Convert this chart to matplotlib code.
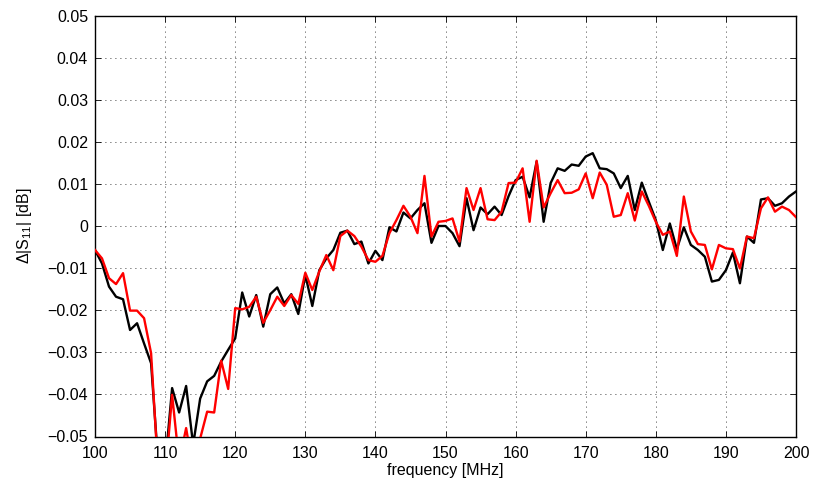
import numpy as np
import matplotlib
matplotlib.use("Agg")
import matplotlib.pyplot as plt

plt.rcParams['font.family'] = ['Liberation Sans', 'DejaVu Sans']
plt.rcParams['mathtext.fontset'] = 'custom'
plt.rcParams['mathtext.rm'] = 'Liberation Sans'
plt.rcParams['mathtext.it'] = 'Liberation Sans'
plt.rcParams['mathtext.default'] = 'regular'

freq = np.arange(100, 201, 1)

black = [
    -0.0057, -0.0089, -0.0144, -0.0168, -0.0174, -0.0247, -0.0231, -0.0279, -0.0326, -0.056,
    -0.057, -0.0385, -0.0443, -0.0380, -0.052, -0.0410, -0.0369, -0.0356, -0.0322, -0.0294,
    -0.0267, -0.0158, -0.0215, -0.0164, -0.0239, -0.0162, -0.0146, -0.0184, -0.0162, -0.0209,
    -0.0116, -0.0190, -0.0105, -0.0077, -0.0057, -0.0016, -0.0011, -0.0043, -0.0037, -0.0089,
    -0.0059, -0.0081, -0.0003, -0.0013, 0.0032, 0.0018, 0.0038, 0.0054, -0.0040, 0.0000,
    0.0000, -0.0017, -0.0048, 0.0066, -0.0010, 0.0044, 0.0028, 0.0046, 0.0026, 0.0071,
    0.0109, 0.0117, 0.0068, 0.0153, 0.0010, 0.0102, 0.0137, 0.0131, 0.0146, 0.0143,
    0.0165, 0.0173, 0.0137, 0.0135, 0.0125, 0.0090, 0.0119, 0.0038, 0.0103, 0.0058,
    0.0014, -0.0057, 0.0006, -0.0055, -0.0003, -0.0045, -0.0057, -0.0073, -0.0132, -0.0128,
    -0.0105, -0.0063, -0.0136, -0.0025, -0.0040, 0.0063, 0.0066, 0.0048, 0.0054, 0.0070,
    0.0082,
]

red = [
    -0.0057, -0.0077, -0.0124, -0.0138, -0.0112, -0.0201, -0.0201, -0.0219, -0.0302, -0.058,
    -0.060, -0.0401, -0.056, -0.0480, -0.058, -0.0505, -0.0441, -0.0443, -0.0320, -0.0387,
    -0.0195, -0.0198, -0.0192, -0.0168, -0.0230, -0.0200, -0.0168, -0.0190, -0.0164, -0.0185,
    -0.0111, -0.0152, -0.0108, -0.0069, -0.0105, -0.0024, -0.0011, -0.0024, -0.0049, -0.0081,
    -0.0085, -0.0071, -0.0017, 0.0014, 0.0048, 0.0022, -0.0017, 0.0119, -0.0025, 0.0010,
    0.0012, 0.0018, -0.0037, 0.0090, 0.0038, 0.0090, 0.0016, 0.0014, 0.0034, 0.0102,
    0.0103, 0.0137, 0.0010, 0.0155, 0.0044, 0.0078, 0.0109, 0.0078, 0.0079, 0.0087,
    0.0125, 0.0066, 0.0127, 0.0098, 0.0022, 0.0026, 0.0078, 0.0013, 0.0082, 0.0048,
    0.0010, -0.0021, -0.0013, -0.0071, 0.0070, -0.0013, -0.0043, -0.0045, -0.0103, -0.0045,
    -0.0053, -0.0055, -0.0101, -0.0025, -0.0029, 0.0042, 0.0068, 0.0034, 0.0046, 0.0038,
    0.0021,
]

xticks = list(range(100, 201, 10))
yticks = [-0.05, -0.04, -0.03, -0.02, -0.01, 0, 0.01, 0.02, 0.03, 0.04, 0.05]
yticklabels = ['\u22120.05', '\u22120.04', '\u22120.03', '\u22120.02', '\u22120.01', '0',
               '0.01', '0.02', '0.03', '0.04', '0.05']

fig = plt.figure(figsize=(8.13, 4.83), dpi=100)
ax = fig.add_axes([95/813, 1 - 436.5/483, (796 - 95)/813, (436.5 - 15.5)/483])

ax.plot(freq, black, color='black', lw=1.7, zorder=3)
ax.plot(freq, red, color='#ff0000', lw=1.7, zorder=4)

ax.set_xlim(100, 200)
ax.set_ylim(-0.05, 0.05)
ax.set_xticks(xticks)
ax.set_yticks(yticks)
ax.set_yticklabels(yticklabels)
ax.grid(True, color='black', linestyle=(0, (1, 5)), linewidth=0.6)
ax.tick_params(direction='in', top=True, right=True, length=4, width=0.6,
               labelsize=11.5)
ax.tick_params(axis='x', pad=7)
ax.tick_params(axis='y', pad=5)
for s in ax.spines.values():
    s.set_linewidth(1.0)

ax.set_xlabel('frequency [MHz]', fontsize=11.5, labelpad=1)
ax.set_ylabel('\u0394|S$_{11}$| [dB]', fontsize=11.5, labelpad=10)

fig.savefig('out.png', dpi=100)
